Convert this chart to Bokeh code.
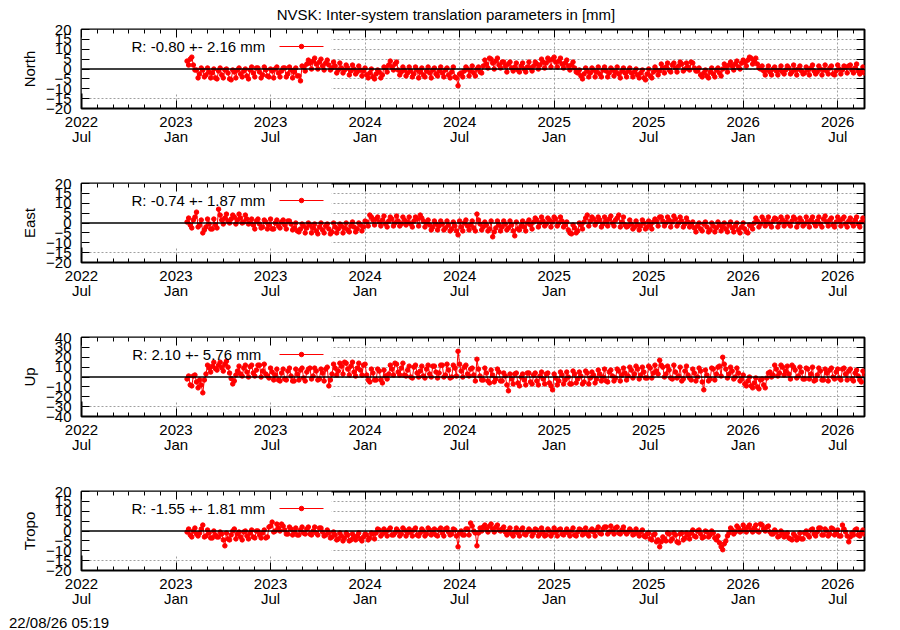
import numpy as np
from bokeh.plotting import figure
from bokeh.layouts import column
from bokeh.models import (FixedTicker, Range1d, Span, Label, BoxAnnotation, Div,
                          LinearAxis, CustomJSTickFormatter, ColumnDataSource)
from bokeh.embed import file_html
from bokeh.resources import INLINE

# ---------------- data ----------------
TITLE = "NVSK: Inter-system translation parameters in [mm]"
STAMP = "22/08/26 05:19"
TICK_MONTHS = [0, 6, 12, 18, 24, 30, 36, 42, 48]          # months since 2022 Jul
TICK_LABELS = ["2022\nJul", "2023\nJan", "2023\nJul", "2024\nJan", "2024\nJul",
               "2025\nJan", "2025\nJul", "2026\nJan", "2026\nJul"]
X_END = 49.7          # 2026-08-22
FIRST = 6.7           # first epoch (months since 2022 Jul)
STEP = 0.2            # spacing of the "_a" epochs; "_b" epochs lie half-way

north_a = [
    4.0, 5.0, 2.0, -0.5, -2.5, -0.5, -3.0, -1.5, -2.0, -4.5,
    -1.0, -3.0, -0.5, -2.0, -5.5, -1.5, -0.5, -2.5, -1.0, -3.5,
    -0.5, -2.0, 0.5, -1.5, -3.0, -0.5, -4.0, -1.0, 0.0, -2.0,
    -1.0, 0.5, -2.5, -0.5, -1.5, -3.5, -6.0, 1.0, 2.5, 3.0,
    4.0, 2.5, 3.5, 1.5, 3.0, 2.0, 0.5, 1.5, -0.5, 0.5,
    -0.5, 0.5, -1.0, 0.0, -1.5, -0.5, -1.0, -3.0, -2.0, -4.0,
    -2.5, -1.5, -3.0, 0.5, 2.0, 1.0, 2.5, -0.5, -1.5, -0.5,
    -2.0, -1.0, -2.5, -0.5, -1.5, -3.0, -1.0, -2.0, -0.5, -2.5,
    -1.0, -2.0, -0.5, -3.0, -1.5, -4.0, -8.5, -2.0, -1.0, 0.0,
    -1.0, -2.0, 0.0, -1.5, 1.5, 2.5, 5.5, 3.0, 4.0, 2.0,
    3.5, 1.5, 2.5, 0.5, 1.0, -0.5, 1.5, 0.0, 1.0, 0.5,
    1.5, 2.5, 2.0, 3.5, 3.0, 4.5, 5.0, 3.5, 4.0, 2.5,
    3.0, 1.5, 2.0, 0.5, -2.0, -3.5, -2.5, -1.0, -2.0, -0.5,
    -1.5, -2.5, -0.5, -1.0, -2.0, -0.5, -1.5, -2.5, -1.0, -2.0,
    -1.0, -2.0, -1.5, -3.0, -2.0, -4.5, -2.5, -3.5, -1.5, -0.5,
    -1.0, 0.5, 1.0, -0.5, 2.0, 0.5, 1.5, 2.5, 0.0, 1.0,
    3.5, 0.5, -1.0, -3.0, -2.0, -3.5, -1.5, -2.5, -0.5, -2.0,
    0.0, 1.0, 2.0, 1.5, 2.5, 1.0, 3.0, 3.5, 4.5, 5.5,
    4.0, 2.5, 0.0, -1.0, -0.5, -1.5, 0.0, -1.0, -0.5, -1.5,
    -0.5, 0.5, -1.5, -0.5, 0.0, -1.0, -2.0, -0.5, 0.5, -1.0,
    -1.5, 0.0, -0.5, -1.0, 0.5, -2.5, -1.0, 0.0, -0.5, 1.0,
    1.5, -0.5, 0.5, -1.0, -1.5, -2.0,
]
north_b = [
    2.0, 6.0, -0.5, -4.5, 0.5, -4.0, 0.5, -4.5, 0.0, -5.0,
    0.5, -4.5, 0.0, -5.0, -0.5, -4.5, 0.5, -4.0, 0.0, -5.0,
    1.0, -4.0, 0.5, -4.5, 1.0, -3.5, 0.0, -4.5, 1.0, -4.0,
    0.5, -4.0, 1.0, -4.5, 0.5, -3.5, 1.5, -1.0, 4.5, 0.0,
    5.5, 0.0, 5.0, -0.5, 4.5, -0.5, 3.5, -2.0, 3.0, -2.0,
    2.0, -3.0, 2.0, -2.5, 1.5, -3.5, 0.5, -4.5, 0.0, -5.0,
    -0.5, -4.5, 1.0, -1.5, 4.0, -0.5, 3.5, -3.0, 1.0, -3.5,
    1.0, -4.0, 1.0, -4.5, 0.5, -4.0, 1.0, -4.5, 0.5, -3.5,
    1.0, -4.0, 0.5, -4.5, 1.0, -4.5, -2.5, -4.0, 1.0, -3.5,
    1.5, -3.5, 1.0, -2.0, 4.5, 0.5, 5.0, 0.0, 5.5, 0.5,
    3.5, -1.5, 3.5, -1.0, 3.0, -1.5, 3.0, -1.5, 3.5, -1.0,
    3.5, 0.0, 5.0, 0.5, 5.5, 1.0, 6.0, 1.0, 5.5, 0.5,
    4.5, -0.5, 3.5, -1.5, -0.5, -5.0, 0.5, -4.0, 0.5, -4.0,
    1.0, -4.0, 1.0, -4.0, 0.5, -3.5, 1.0, -4.5, 0.5, -4.0,
    0.5, -4.0, 0.0, -4.5, -0.5, -5.5, 0.0, -4.5, 1.0, -3.0,
    2.5, -2.0, 3.0, -1.5, 3.0, -1.5, 3.5, -1.0, 3.0, -0.5,
    3.0, -1.0, 0.5, -4.0, -0.5, -4.5, 0.5, -4.0, 0.5, -3.5,
    2.5, -1.5, 3.5, -0.5, 4.0, 0.0, 4.5, 1.5, 6.0, 2.5,
    5.5, 0.5, 1.5, -3.0, 1.5, -3.0, 1.0, -3.0, 1.5, -2.5,
    1.5, -2.5, 2.0, -3.0, 1.5, -2.5, 1.0, -3.0, 2.0, -2.5,
    1.5, -3.0, 2.0, -2.5, 1.5, -3.0, 2.0, -2.5, 1.5, -2.0,
    2.0, -2.0, 2.5, -2.5, 1.0,
]

east_a = [
    0.5, -1.0, 1.5, 5.5, -1.0, -5.0, -2.0, -0.5, -3.0, -1.0,
    7.0, 1.5, 2.5, 1.0, 2.0, 3.0, 1.5, 2.5, 0.5, 2.0,
    0.0, -1.0, 1.0, -0.5, -2.0, 0.5, -1.0, -3.0, 0.0, -1.5,
    0.5, -1.0, 1.0, -0.5, -2.5, -4.0, -3.0, -1.5, -2.5, -1.0,
    -2.5, -4.0, -2.0, -3.5, -1.5, -3.0, -4.5, -2.0, -3.0, -1.5,
    -2.5, -3.5, -1.5, -2.0, -3.0, -1.0, -2.0, 0.5, 4.0, 1.5,
    2.0, 0.5, 1.5, -0.5, 1.0, 2.0, 0.0, 1.0, -0.5, 1.5,
    0.5, -0.5, 1.0, 2.0, 4.0, 1.0, 0.0, -1.0, -2.0, -0.5,
    -1.5, -0.5, -2.5, -1.0, -3.0, -1.5, -6.0, -2.0, 0.0, -1.5,
    -1.0, -2.5, 4.5, -0.5, -2.0, -1.0, -3.0, -7.0, -2.5, -1.0,
    -2.0, -0.5, -2.5, -1.0, -6.5, -3.0, -1.5, -2.0, 0.0, -1.0,
    0.5, 1.5, 0.0, 1.0, -0.5, 1.5, 0.5, 2.0, 0.0, 1.0,
    -1.0, -3.5, -5.5, -2.5, -4.0, -1.0, 0.5, 4.0, 1.0, 2.0,
    0.5, 1.5, -0.5, 1.0, 2.0, 0.0, 1.5, 4.0, 0.5, -1.0,
    -1.5, -0.5, -2.0, -1.0, -1.5, 0.0, -2.0, -1.0, 0.5, 1.0,
    3.0, 1.0, 0.0, 1.5, 0.5, 2.0, 0.0, 1.0, -0.5, 0.5,
    -1.0, -2.5, -1.5, -3.0, -0.5, -2.0, -3.5, -1.5, -2.5, -1.0,
    -2.0, -3.0, -1.0, -2.5, -1.5, -3.5, -2.0, -3.0, -5.0, -1.5,
    0.0, 1.0, -0.5, 1.5, 0.5, -0.5, 1.0, 2.0, 0.0, 1.5,
    0.5, -0.5, 1.0, 2.0, 0.0, 1.0, -0.5, 0.5, 1.5, 0.0,
    1.0, -0.5, 2.0, 0.5, 1.5, -1.0, 0.5, 1.0, 2.0, -0.5,
    1.0, 0.0, 1.5, -0.5, 0.5, 1.0,
]
east_b = [
    2.5, -2.5, 3.0, -2.0, 1.5, -3.5, 2.0, -3.0, 2.0, -2.5,
    4.0, -0.5, 4.5, 0.0, 4.0, -0.5, 4.5, 0.0, 4.0, -0.5,
    2.0, -3.0, 2.0, -2.5, 1.5, -3.0, 2.0, -3.0, 1.5, -2.5,
    1.5, -3.0, 1.0, -3.5, 0.0, -4.5, -0.5, -5.0, 0.0, -5.0,
    -0.5, -5.5, 0.0, -5.0, -0.5, -5.5, 0.0, -5.0, -0.5, -5.0,
    0.0, -4.5, 0.5, -4.5, 0.0, -4.0, 1.0, -1.5, 3.0, -1.0,
    3.0, -1.5, 3.5, -2.0, 3.0, -1.5, 3.5, -1.5, 3.0, -1.0,
    3.0, -2.0, 3.0, -1.5, 2.5, -2.0, 1.5, -3.5, 1.0, -3.5,
    1.0, -3.5, 1.0, -4.0, 0.5, -4.0, 1.0, -4.0, 1.5, -3.5,
    1.0, -4.0, 1.5, -3.5, 0.5, -4.0, 1.0, -4.5, 1.0, -4.0,
    1.0, -3.5, 1.0, -4.0, 0.5, -3.5, 1.0, -4.0, 1.5, -3.0,
    2.5, -2.0, 3.0, -1.5, 2.5, -2.0, 3.0, -1.5, 3.0, -2.0,
    0.5, -5.0, -1.0, -5.0, 0.0, -3.0, 2.5, -1.5, 3.0, -1.0,
    3.0, -2.0, 3.0, -1.5, 3.5, -1.5, 2.5, -2.0, 3.0, -2.0,
    1.5, -3.0, 1.0, -3.5, 1.5, -3.0, 1.0, -3.0, 2.0, -1.5,
    3.0, -1.5, 3.0, -2.0, 3.5, -1.5, 3.0, -2.0, 2.5, -2.0,
    0.5, -4.5, 0.0, -4.0, 0.5, -4.5, 0.0, -4.5, 0.5, -4.0,
    0.0, -4.5, 0.5, -4.5, 0.0, -5.0, 0.0, -4.5, -1.0, -3.0,
    2.5, -2.0, 3.0, -1.5, 3.0, -2.0, 2.5, -2.0, 3.0, -1.5,
    3.0, -1.5, 3.0, -2.0, 2.5, -1.5, 3.0, -2.0, 3.0, -1.5,
    3.0, -2.0, 3.5, -1.5, 2.5, -2.0, 3.0, -1.5, 3.0, -2.0,
    2.5, -1.5, 3.0, -2.0, 2.5,
]

up_a = [
    -2.0, -8.0, 1.0, -5.0, -3.0, -16.0, 3.0, 9.0, 11.0, 8.5,
    12.0, 9.5, 13.0, 10.0, -1.5, -4.0, 6.0, 3.0, 9.0, 5.0,
    10.5, 4.0, 7.0, 12.0, 6.0, 3.0, -1.0, 5.0, 2.0, -3.0,
    4.0, -2.0, 6.0, 1.0, -4.0, 3.0, 7.0, -1.0, 5.0, 9.0,
    1.0, 6.0, -2.0, 4.0, 8.0, -9.0, 3.0, 9.0, 6.0, 11.0,
    15.0, 8.0, 11.0, 5.0, 9.0, 7.0, 12.0, 2.0, -5.0, 4.0,
    -3.0, 6.0, -6.0, 1.0, 3.0, 8.0, 14.0, 5.0, 9.0, 2.0,
    7.0, 0.0, 10.0, 4.0, 6.0, 1.0, 8.0, 3.0, 11.0, 5.0,
    4.0, 12.0, 2.0, 7.0, 0.0, 9.0, 26.0, 6.0, 10.0, 3.0,
    8.0, 2.0, 18.0, 1.0, -3.0, 4.0, -6.0, 2.0, -2.0, 5.0,
    -4.0, 1.0, -14.0, -2.0, 3.0, -6.0, 0.0, -3.0, 4.0, -5.0,
    2.0, -4.0, 1.0, -2.0, 3.0, -6.0, -13.0, -1.0, -4.0, 2.0,
    -3.0, 0.0, -7.0, 3.0, -2.0, 1.0, -5.0, 4.0, -1.0, 2.0,
    -2.0, 3.0, 0.0, -4.0, 5.0, 1.0, -1.0, 6.0, 2.0, 4.0,
    1.0, 7.0, 3.0, 8.0, 2.0, 5.0, -1.0, 9.0, 4.0, 6.0,
    17.0, 10.0, 3.0, 7.0, -2.0, 5.0, 1.0, -4.0, 6.0, 2.0,
    -3.0, 4.0, 0.0, 6.0, -13.0, 2.0, -2.0, 8.0, 3.0, 11.0,
    20.0, 8.0, 3.0, 6.0, 0.0, 4.0, -2.0, -7.0, -4.0, -9.0,
    -6.0, -10.0, -3.0, -8.0, -1.0, 5.0, 2.0, 8.0, 4.0, 10.0,
    6.0, 3.0, 12.0, 7.0, 1.0, 5.0, -2.0, 8.0, 3.0, -4.0,
    2.0, 6.0, -3.0, 4.0, 7.0, 0.0, 5.0, -1.0, 8.0, 3.0,
    6.0, -2.0, 4.0, 1.0, -5.0, 3.0,
]
up_b = [
    1.0, -9.0, 2.0, -11.0, -8.0, -3.0, 12.0, 5.0, 15.0, 7.0,
    15.0, 6.0, 16.0, 4.0, -7.0, 2.0, 11.0, 1.0, 12.0, 0.0,
    12.0, 1.0, 12.0, 0.0, 13.0, 1.0, 9.0, -3.0, 8.0, -4.0,
    8.0, -3.0, 9.0, -4.0, 8.0, -3.0, 9.0, -4.0, 8.0, -2.0,
    9.0, -3.0, 8.0, -4.0, 10.0, -3.0, 13.0, 2.0, 14.0, 3.0,
    14.0, 2.0, 15.0, 1.0, 14.0, 2.0, 13.0, -3.0, 8.0, -3.0,
    8.0, -3.0, 7.0, -2.0, 12.0, 2.0, 13.0, 2.0, 14.0, 1.0,
    11.0, -1.0, 12.0, 0.0, 11.0, -1.0, 12.0, 0.0, 11.0, -1.0,
    12.0, 0.0, 13.0, -1.0, 12.0, 1.0, 13.0, 0.0, 12.0, 1.0,
    9.0, -4.0, 8.0, -3.0, 9.0, -4.0, 7.0, -5.0, 8.0, -4.0,
    4.0, -8.0, 3.0, -7.0, 4.0, -9.0, 3.0, -8.0, 4.0, -7.0,
    4.0, -8.0, 5.0, -7.0, 4.0, -9.0, 3.0, -8.0, 5.0, -7.0,
    5.0, -7.0, 6.0, -6.0, 5.0, -7.0, 6.0, -7.0, 5.0, -6.0,
    7.0, -4.0, 8.0, -5.0, 7.0, -4.0, 8.0, -4.0, 9.0, -3.0,
    10.0, -1.0, 11.0, -2.0, 10.0, -1.0, 11.0, -1.0, 12.0, 3.0,
    12.0, 0.0, 11.0, -1.0, 12.0, -1.0, 10.0, -2.0, 11.0, -1.0,
    8.0, -4.0, 9.0, -5.0, 7.0, -4.0, 9.0, -3.0, 10.0, 1.0,
    13.0, -1.0, 10.0, -2.0, 9.0, -4.0, 2.0, -9.0, 0.0, -11.0,
    -1.0, -12.0, -2.0, -11.0, 4.0, 0.0, 12.0, 1.0, 12.0, 2.0,
    11.0, -2.0, 10.0, -1.0, 10.0, -2.0, 9.0, -2.0, 10.0, -3.0,
    9.0, -3.0, 8.0, -4.0, 9.0, -2.0, 8.0, -3.0, 9.0, -3.0,
    8.0, -4.0, 7.0, -3.0, 6.0,
]

tropo_a = [
    -0.5, -2.0, 0.0, -1.5, -1.0, 3.0, -2.5, -1.0, -3.5, -2.0,
    -3.0, -1.5, -7.5, -4.0, -2.0, 1.0, -1.5, -3.0, -0.5, -2.5,
    -1.0, -3.0, 0.0, -2.0, -1.0, -3.5, 2.0, 4.5, 0.0, 1.5,
    3.5, 0.5, -1.5, 1.0, -0.5, -2.0, 0.5, -1.0, 1.0, -1.5,
    0.0, -1.0, 1.5, -0.5, -2.0, -1.0, -3.0, -2.0, -4.0, -2.5,
    -3.5, -2.0, -4.5, -3.0, -2.5, -4.0, -3.0, -2.0, -3.5, -1.5,
    -1.0, 0.5, -1.5, -0.5, 0.5, -2.0, -1.0, 0.0, -1.5, 0.5,
    -1.0, -0.5, 0.5, -2.0, -1.0, 0.0, -1.5, 0.5, -1.0, -2.0,
    0.5, -1.0, 1.0, -0.5, -1.5, 0.5, -8.0, 0.0, -2.0, 1.0,
    4.0, 0.0, -7.5, 1.5, 2.0, 1.0, 2.5, 1.0, 2.0, 0.5,
    1.0, -0.5, 0.0, -1.5, -0.5, -1.0, 0.5, -1.5, -0.5, 0.0,
    -1.0, 0.5, -1.5, -0.5, -2.0, 0.0, -1.0, -0.5, 0.5, -1.5,
    -0.5, -1.0, 0.0, -2.0, -0.5, 0.5, -1.0, -1.5, 0.0, -0.5,
    0.5, -1.0, 1.0, 2.0, -0.5, 0.0, 1.5, -1.0, 0.5, -0.5,
    -0.5, 0.0, -1.5, -1.0, -0.5, -2.5, -1.5, -4.0, -2.0, -5.5,
    -8.0, -3.0, -5.0, -1.5, -4.0, -2.0, -6.0, -1.0, -3.5, -2.0,
    -1.0, -2.5, 0.0, -1.5, -3.0, -0.5, -2.0, -1.0, -4.5, -6.0,
    -9.5, -5.0, -1.0, 0.5, -0.5, 1.5, 0.0, 1.0, 2.0, 0.5,
    1.5, 0.0, 3.5, 1.0, 2.0, -0.5, -1.5, -0.5, -2.5, -1.0,
    -2.0, -3.5, -4.5, -2.5, -3.5, -4.0, -1.0, -2.0, 0.5, -1.5,
    -0.5, 1.5, -2.0, 0.0, -1.5, 1.0, -1.0, -2.5, 3.0, -0.5,
    -5.5, -1.0, 0.5, -2.0, -1.0, -1.5,
]
tropo_b = [
    1.0, -3.0, 1.5, -2.5, 1.0, -3.0, 0.5, -3.5, 0.0, -3.0,
    -0.5, -4.5, -1.0, -4.5, 0.0, -4.0, -0.5, -4.5, 0.0, -4.0,
    0.5, -3.5, 0.0, -3.5, 0.5, -3.0, 2.5, -0.5, 3.5, 0.0,
    2.5, -1.5, 2.0, -2.0, 1.5, -2.0, 2.0, -1.5, 2.0, -2.0,
    2.0, -2.0, 1.5, -2.5, 0.5, -3.5, -0.5, -4.5, -1.0, -5.0,
    -1.0, -5.0, -1.5, -4.5, -1.0, -5.0, -1.5, -4.5, -1.0, -4.0,
    1.0, -2.5, 1.0, -2.5, 1.5, -2.0, 1.0, -2.5, 1.5, -2.5,
    1.0, -2.5, 1.5, -2.5, 1.0, -2.5, 1.5, -2.0, 1.0, -2.5,
    1.5, -2.5, 1.5, -2.0, 1.0, -2.5, -1.0, -2.0, 1.0, -2.0,
    2.5, -1.0, -1.0, 0.0, 3.0, -0.5, 3.5, -0.5, 3.0, 0.0,
    2.0, -2.0, 1.5, -2.5, 1.5, -2.5, 1.5, -2.0, 1.0, -2.5,
    1.0, -2.5, 1.5, -2.5, 1.0, -2.5, 1.5, -2.5, 1.0, -2.0,
    1.0, -2.5, 1.5, -2.5, 1.0, -2.0, 1.5, -2.5, 1.0, -2.5,
    2.0, -1.5, 2.0, -1.5, 2.5, -1.5, 2.0, -1.5, 2.0, -1.5,
    1.0, -2.0, 1.0, -2.5, 0.5, -3.0, -1.0, -4.5, -1.5, -4.5,
    -5.5, -4.0, -1.0, -5.0, -1.0, -5.5, -1.5, -4.5, -1.0, -4.0,
    0.5, -3.0, 0.5, -3.5, 0.0, -3.0, 0.0, -3.5, -2.5, -8.0,
    -6.5, -2.5, 1.5, -1.5, 2.5, -0.5, 3.0, -0.5, 3.0, -0.5,
    3.0, -0.5, 3.0, 0.0, 2.5, -1.5, 0.5, -3.0, 0.0, -3.0,
    -1.0, -4.0, -1.5, -4.5, -1.0, -4.0, 0.0, -3.0, 1.0, -2.5,
    1.5, -2.0, 1.0, -2.5, 1.5, -2.0, 0.5, -2.5, 1.0, -2.5,
    -3.0, -2.0, 1.0, -2.5, 0.5,
]

PANELS = [
    ("North", north_a, north_b, 20, 5, "R:  -0.80 +- 2.16 mm"),
    ("East", east_a, east_b, 20, 5, "R:  -0.74 +- 1.87 mm"),
    ("Up", up_a, up_b, 40, 10, "R:   2.10 +- 5.76 mm"),
    ("Tropo", tropo_a, tropo_b, 20, 5, "R:  -1.55 +- 1.81 mm"),
]

# ---------------- layout ----------------
FONT = "Liberation Sans"
FS = "15px"
W = 892
B_LEFT, B_RIGHT = 81, 28
FRAME_W = W - B_LEFT - B_RIGHT   # 783
FRAME_H = 79
RED = "#ff0000"


def mx(px):
    """frame-relative horizontal pixel -> months"""
    return px * X_END / FRAME_W


def vy(px, ymax):
    """pixels below the frame top -> data value"""
    return ymax - px * (2.0 * ymax) / FRAME_H


def series(a, b):
    xa = FIRST + STEP * np.arange(len(a))
    xb = FIRST + STEP / 2 + STEP * np.arange(len(b))
    x = np.concatenate([xa, xb])
    y = np.concatenate([np.asarray(a, float), np.asarray(b, float)])
    order = np.argsort(x, kind="stable")
    return x[order], y[order]


def make_panel(name, va, vb, ymax, ystep, key_text, b_top, b_bottom):
    height = b_top + FRAME_H + b_bottom
    p = figure(width=W, height=height, x_range=Range1d(0, X_END),
               y_range=Range1d(-ymax, ymax), output_backend="svg",
               toolbar_location=None, min_border_left=B_LEFT,
               min_border_right=B_RIGHT, min_border_top=b_top,
               min_border_bottom=b_bottom)
    p.outline_line_color = "black"
    p.outline_line_width = 2
    p.background_fill_color = "white"
    p.border_fill_color = "white"

    xa = p.below[0]
    ya = p.left[0]

    yticks = list(range(-ymax, ymax + 1, ystep))

    # mirrored axes (gnuplot style), ticks only
    top_ax = LinearAxis(ticker=FixedTicker(ticks=TICK_MONTHS, minor_ticks=list(range(0, 50))),
                        formatter=CustomJSTickFormatter(code="return ''"))
    right_ax = LinearAxis(ticker=FixedTicker(ticks=yticks, minor_ticks=[]),
                          formatter=CustomJSTickFormatter(code="return ''"))
    p.add_layout(top_ax, "above")
    p.add_layout(right_ax, "right")

    for ax in [xa, top_ax]:
        ax.major_tick_in = 8
        ax.major_tick_out = 0
        ax.minor_tick_in = 4
        ax.minor_tick_out = 0
    for ax in [ya, right_ax]:
        ax.major_tick_in = 8
        ax.major_tick_out = 0
        ax.minor_tick_in = 0
        ax.minor_tick_out = 0
    for ax in [xa, top_ax, ya, right_ax]:
        ax.axis_line_color = None
        ax.major_tick_line_color = "black"
        ax.minor_tick_line_color = "black"
        ax.major_label_text_font = FONT
        ax.major_label_text_font_size = FS
        ax.major_label_text_color = "black"
    for ax in [top_ax, right_ax]:
        ax.major_label_standoff = 0
        ax.major_label_text_font_size = "0px"

    xa.ticker = FixedTicker(ticks=TICK_MONTHS, minor_ticks=list(range(0, 50)))
    xa.major_label_overrides = dict(zip(TICK_MONTHS, TICK_LABELS))
    xa.major_label_standoff = 4
    xa.major_label_text_line_height = 0.9

    ya.ticker = FixedTicker(ticks=yticks, minor_ticks=[])
    ya.major_label_standoff = 10
    ya.axis_label = name
    ya.axis_label_text_font = FONT
    ya.axis_label_text_font_size = FS
    ya.axis_label_text_font_style = "normal"
    ya.axis_label_text_color = "black"
    ya.axis_label_standoff = 5

    p.xgrid.ticker = FixedTicker(ticks=TICK_MONTHS)
    p.ygrid.ticker = FixedTicker(ticks=yticks)
    for g in [p.xgrid, p.ygrid]:
        g.grid_line_color = "#a0a0a0"
        g.grid_line_dash = "2 2"
        g.grid_line_width = 1

    # opaque key box hiding the grid
    p.add_layout(BoxAnnotation(left=0, right=mx(250), top=ymax, bottom=vy(64, ymax),
                               fill_color="white", fill_alpha=1.0, line_color=None,
                               level="underlay"))

    xs, ys = series(va, vb)
    src = ColumnDataSource(dict(x=xs, y=ys))
    p.line("x", "y", source=src, line_color=RED, line_width=1)
    p.scatter("x", "y", source=src, size=4.5, color=RED)

    p.add_layout(Span(location=0, dimension="width", line_color="black", line_width=1.5))

    # key
    ky = vy(17, ymax)
    p.add_layout(Label(x=mx(188), y=ky, text=key_text, text_align="right",
                       text_baseline="middle", text_font=FONT, text_font_size=FS,
                       text_color="black"))
    p.line(x=[mx(198), mx(242)], y=[ky, ky], line_color=RED, line_width=1)
    p.scatter(x=[mx(220)], y=[ky], size=4.5, color=RED)
    return p


title_div = Div(text=TITLE, width=W, height=15, margin=(7, 0, 0, 0),
                styles={"font-family": FONT, "font-size": FS, "line-height": "15px",
                        "text-align": "center", "color": "black", "white-space": "nowrap"})
stamp_div = Div(text=STAMP, width=200, height=12, margin=(7, 0, 0, 9),
                styles={"font-family": FONT, "font-size": FS, "line-height": "12px",
                        "color": "black", "white-space": "nowrap"})

borders = [(7, 54), (21, 54), (21, 54), (21, 40)]
figs = []
for (name, va, vb, ymax, ystep, key), (bt, bb) in zip(PANELS, borders):
    figs.append(make_panel(name, va, vb, ymax, ystep, key, bt, bb))

layout = column(title_div, *figs, stamp_div, spacing=0)
open("out.html", "w").write(file_html(layout, INLINE))
